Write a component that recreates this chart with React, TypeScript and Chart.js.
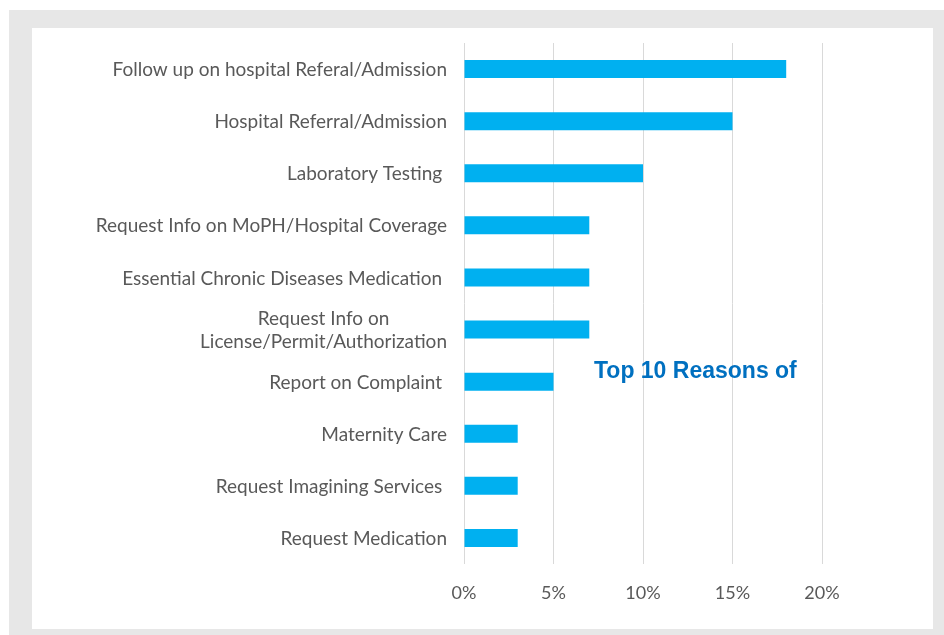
import React, { useEffect, useRef } from "react";
import { Chart, registerables } from "chart.js";

Chart.register(...registerables);

const categories: (string | string[])[] = [
  "Follow up on hospital Referal/Admission",
  "Hospital Referral/Admission",
  "Laboratory Testing ",
  "Request Info on MoPH/Hospital Coverage",
  "Essential Chronic Diseases Medication ",
  ["Request Info on", "License/Permit/Authorization"],
  "Report on Complaint ",
  "Maternity Care",
  "Request Imagining Services ",
  "Request Medication",
];
const values = [18, 15, 10, 7, 7, 7, 5, 3, 3, 3];
const xTicks = [0, 5, 10, 15, 20];
const overlayTitle = "Top 10 Reasons of";

const W = 944;
const H = 635;
const LABEL_FONT = "19px Lato, 'DejaVu Sans', sans-serif";

export default function App() {
  const ref = useRef<HTMLCanvasElement | null>(null);

  useEffect(() => {
    document.body.style.margin = "0";
    const canvas = ref.current;
    if (!canvas) return;

    const bgPlugin = {
      id: "bg",
      beforeDraw(chart: any) {
        const ctx = chart.ctx;
        ctx.save();
        ctx.fillStyle = "#ffffff";
        ctx.fillRect(0, 0, W, H);
        ctx.fillStyle = "#e7e7e7";
        ctx.fillRect(9, 10, W - 9, H - 10);
        ctx.fillStyle = "#ffffff";
        ctx.fillRect(32, 28, 901, 601);
        ctx.restore();
      },
      afterDraw(chart: any) {
        const ctx = chart.ctx;
        const yScale = chart.scales.y;
        ctx.save();
        // category labels
        ctx.font = LABEL_FONT;
        ctx.fillStyle = "#595959";
        ctx.textBaseline = "middle";
        const right = yScale.right - 17;
        const lh = 23;
        (chart.data.labels as any[]).forEach((lab, i) => {
          const y = yScale.getPixelForTick(i) + 1;
          const lines: string[] = Array.isArray(lab) ? lab : [lab];
          const maxW = Math.max(...lines.map((l) => ctx.measureText(l).width));
          const cx = right - maxW / 2;
          ctx.textAlign = "center";
          lines.forEach((l, k) => {
            const ly = y + (k - (lines.length - 1) / 2) * lh;
            ctx.fillText(l, cx, ly);
          });
        });
        // overlay title
        ctx.font = "bold 23px 'Liberation Sans', Arial, sans-serif";
        ctx.fillStyle = "#0070C0";
        ctx.textBaseline = "middle";
        ctx.textAlign = "left";
        ctx.fillText(overlayTitle, 594, 372);
        ctx.restore();
      },
    };

    const chart = new Chart(canvas, {
      type: "bar",
      data: {
        labels: categories,
        datasets: [
          {
            data: values,
            backgroundColor: "#00B0F0",
            borderWidth: 0,
            barPercentage: 0.69,
            categoryPercentage: 0.5,
          },
        ],
      },
      options: {
        indexAxis: "y",
        animation: false,
        responsive: false,
        maintainAspectRatio: false,
        layout: { padding: { left: 0, right: 122, top: 43, bottom: 0 } },
        plugins: {
          legend: { display: false },
          tooltip: { enabled: false },
          title: { display: false },
        },
        scales: {
          x: {
            min: 0,
            max: 20,
            afterBuildTicks(scale: any) {
              scale.ticks = xTicks.map((v) => ({ value: v }));
            },
            afterFit(scale: any) {
              scale.height = 71;
            },
            grid: { color: "#d9d9d9", lineWidth: 1, drawTicks: false },
            border: { display: false },
            ticks: {
              padding: 18,
              color: "#595959",
              font: { family: "Lato, 'DejaVu Sans', sans-serif", size: 18 },
              callback: (v: any) => v + "%",
            },
          },
          y: {
            afterFit(scale: any) {
              scale.width = 464;
            },
            grid: { display: false, drawTicks: false },
            border: { display: false },
            ticks: { display: false },
          },
        },
      },
      plugins: [bgPlugin],
    });

    return () => chart.destroy();
  }, []);

  return (
    <div style={{ width: W, height: H, position: "relative" }}>
      <canvas ref={ref} width={W} height={H} style={{ display: "block", width: W, height: H }} />
    </div>
  );
}
